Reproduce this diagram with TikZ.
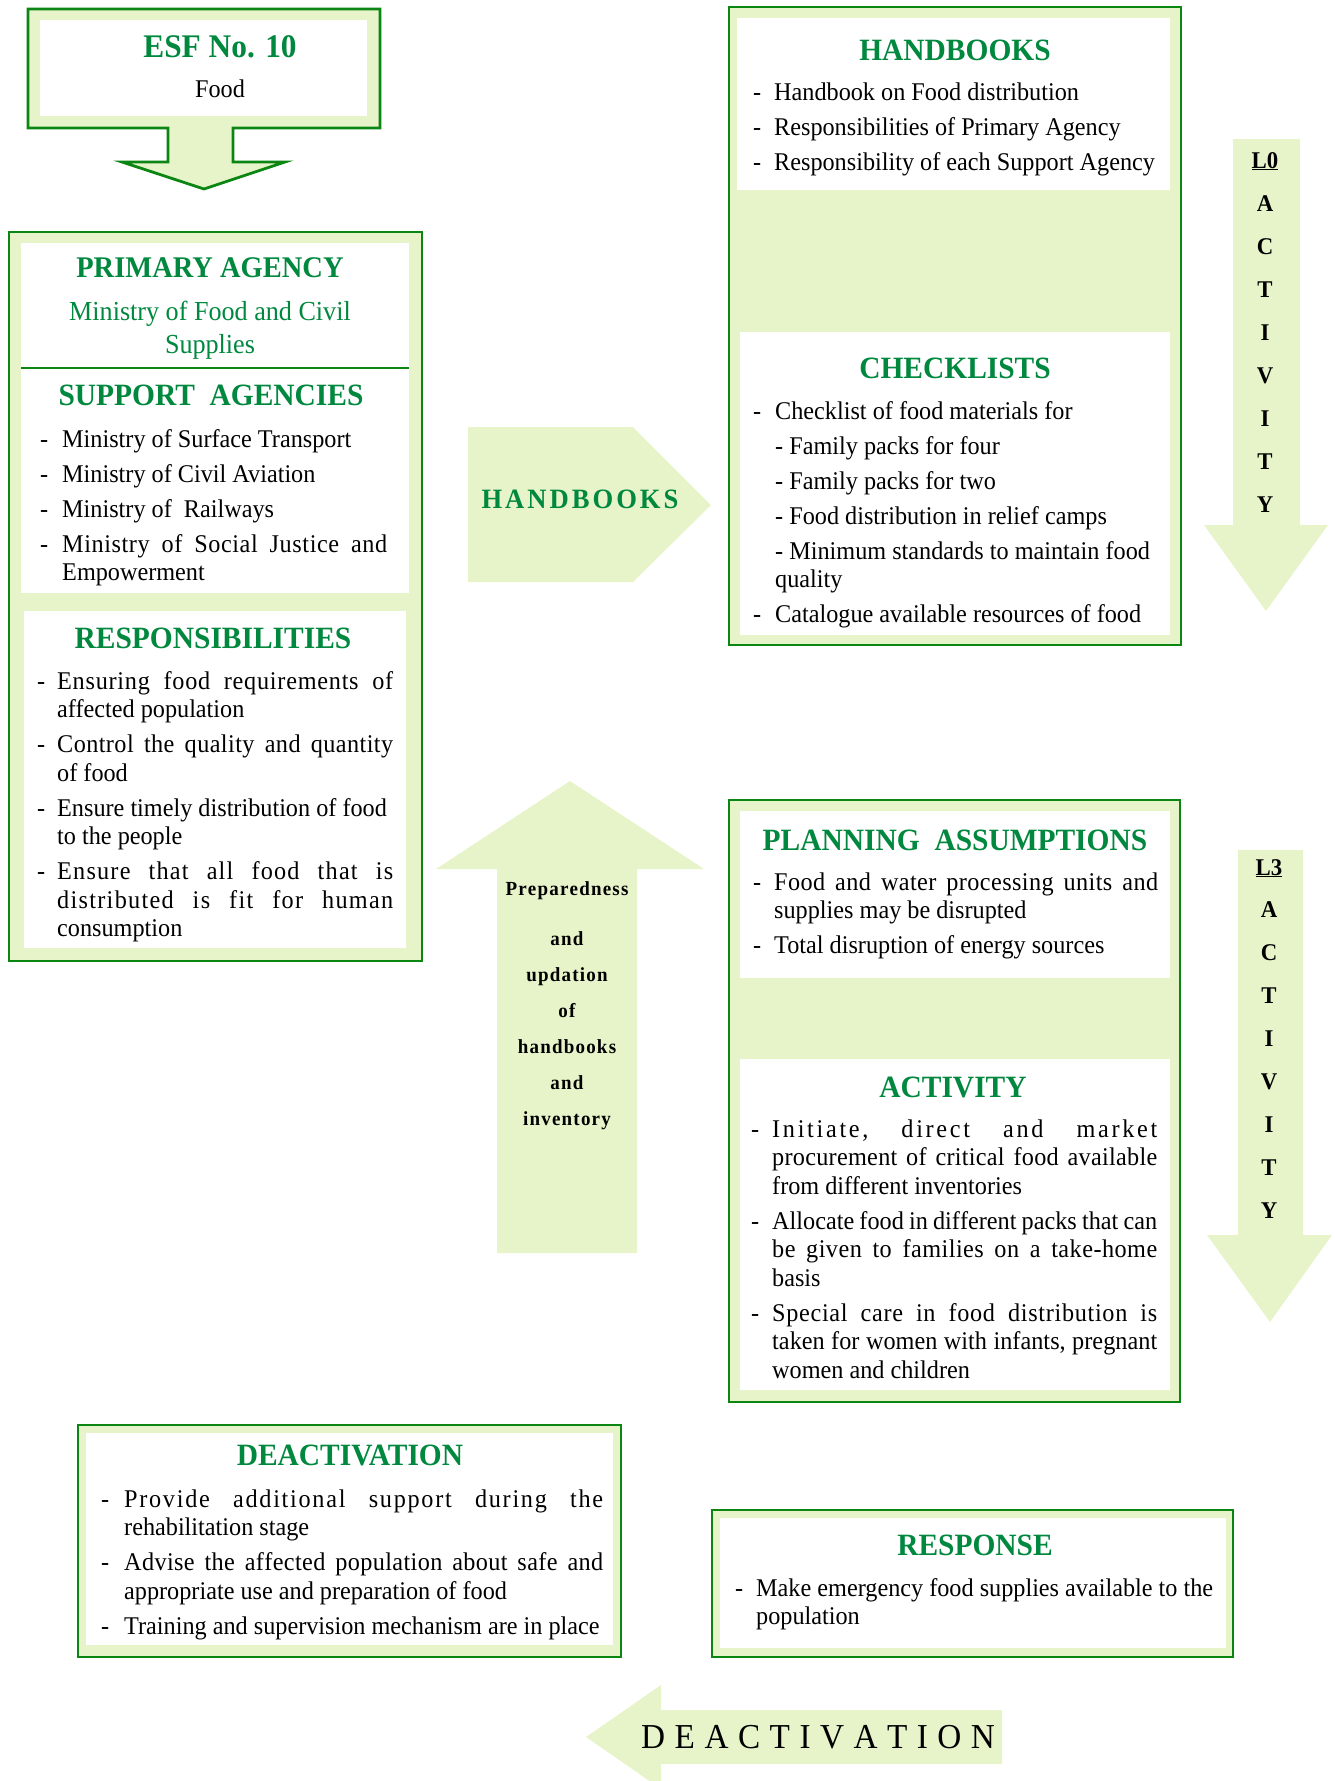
\documentclass[tikz,border=0pt]{standalone}
\usepackage{fontspec}
\setmainfont{Liberation Serif}[FakeStretch=0.95]

\definecolor{edgegreen}{RGB}{12,134,18}
\definecolor{headgreen}{RGB}{0,136,62}
\definecolor{palegreen}{RGB}{231,244,202}

\makeatletter
% spread a line: small stretch between letters, larger stretch between words
\def\lsp@go{\futurelet\lsp@next\lsp@check}
\def\lsp@check{%
  \ifx\lsp@next\@nil
    \let\lsp@do\lsp@end
  \else\ifx\lsp@next\@sptoken
    \let\lsp@do\lsp@space
  \else
    \let\lsp@do\lsp@letter
  \fi\fi
  \lsp@do}
\def\lsp@letter#1{#1\hskip 0pt plus 1pt\relax\lsp@go}
\@firstofone{\def\lsp@space} {\unskip\hskip\fontdimen2\font plus 10pt minus 2.5pt\relax\lsp@go}
\def\lsp@end\@nil{\unskip}
\newcommand\spreadline[1]{\lsp@go#1\@nil}

% letter-spaced words
\newcommand\spaced[2]{\def\spc@k{#1}\spc@go#2\@nil}
\def\spc@go#1{\ifx#1\@nil\unkern\else#1\kern\spc@k\relax\expandafter\spc@go\fi}
\makeatother

% bulleted lists: a dash in a fixed-width slot, hanging indent for the rest
\newlength\dashw
\newcommand\li[1]{\par\noindent\hangindent=\dashw\hangafter=1\relax\makebox[\dashw][l]{-}#1\par}
\newcommand\si[1]{\par\noindent\hangindent=\dashw\hangafter=0\relax#1\par}
\newcommand\jl[1]{\makebox[\dimexpr\linewidth-\dashw\relax][s]{\spreadline{#1}}}
\newcommand\blist[3]{\begin{minipage}[t]{#1}\setlength\dashw{#2}\setlength\parindent{0pt}\setlength\parskip{6.5pt}#3\end{minipage}}

\begin{document}
\begin{tikzpicture}[x=1pt,y=-1pt,
  panel/.style={fill=palegreen, draw=edgegreen, line width=2.8pt},
  sheet/.style={fill=white},
  band/.style={fill=palegreen},
  ttl/.style={inner sep=0pt, anchor=base, text=headgreen, font=\fontsize{31}{31}\selectfont\bfseries},
  sub/.style={inner sep=0pt, anchor=base, text=headgreen, font=\fontsize{27.5}{27.5}\selectfont},
  txt/.style={inner sep=0pt, anchor=base west, font=\fontsize{25.5}{28.5}\selectfont},
  lett/.style={inner sep=0pt, anchor=base, font=\fontsize{24}{24}\selectfont\bfseries},
  prep/.style={inner sep=0pt, anchor=base, font=\fontsize{20}{20}\selectfont\bfseries}]
\useasboundingbox (0,0) rectangle (1335,1781);

% ---------- ESF callout with its down arrow ----------
\draw[panel] (28,9) -- (380,9) -- (380,128) -- (233,128) -- (233,162) -- (285,162)
  -- (204,189) -- (122,162) -- (168,162) -- (168,128) -- (28,128) -- cycle;
\fill[sheet] (40,20) rectangle (367,116);
\node[ttl, font=\fontsize{33}{33}\selectfont\bfseries] (esf) at (220,57) {ESF No. 10};
\node[txt, anchor=base] (food) at (220,97) {Food};

% ---------- primary / support agencies / responsibilities ----------
\draw[panel] (9,232) rectangle (422,961);
\fill[sheet] (21,243) rectangle (409,593);
\draw[edgegreen, line width=2.6pt] (21,368) -- (409,368);
\fill[sheet] (24,611) rectangle (406,948);
\node[ttl, font=\fontsize{30}{30}\selectfont\bfseries] (prim) at (210,277) {PRIMARY AGENCY};
\node[sub] (mfcs1) at (210,320) {Ministry of Food and Civil};
\node[sub] (mfcs2) at (210,353) {Supplies};
\node[ttl] (supp) at (211,405) {SUPPORT\ \ AGENCIES};
\node[txt] (supplist) at (40,447) {\blist{347pt}{22pt}{%
\li{Ministry of Surface Transport}
\li{Ministry of Civil Aviation}
\li{Ministry of\ \ Railways}
\li{\jl{Ministry of Social Justice and}\\Empowerment}}};
\node[ttl] (resp) at (213,648) {RESPONSIBILITIES};
\node[txt] (resplist) at (37,689) {\blist{356pt}{20pt}{%
\li{\jl{Ensuring food requirements of}\\affected population}
\li{\jl{Control the quality and quantity}\\of food}
\li{Ensure timely distribution of food\\to the people}
\li{\jl{Ensure that all food that is}\\\jl{distributed is fit for human}\\consumption}}};

% ---------- handbooks / checklists ----------
\draw[panel] (729,7) rectangle (1181,645);
\fill[sheet] (737,18) rectangle (1170,190);
\fill[sheet] (740,332) rectangle (1170,635);
\node[ttl] (hbt) at (955,60) {HANDBOOKS};
\node[txt] (hblist) at (753,100) {\blist{420pt}{21pt}{%
\li{Handbook on Food distribution}
\li{Responsibilities of Primary Agency}
\li{Responsibility of each Support Agency}}};
\node[ttl] (ckt) at (955,378) {CHECKLISTS};
\node[txt] (cklist) at (753,419) {\blist{420pt}{22pt}{%
\li{Checklist of food materials for}
\si{- Family packs for four}
\si{- Family packs for two}
\si{- Food distribution in relief camps}
\si{- Minimum standards to maintain food\\quality}
\li{Catalogue available resources of food}}};

% ---------- planning assumptions / activity ----------
\draw[panel] (729,800) rectangle (1180,1402);
\fill[sheet] (740,811) rectangle (1170,978);
\fill[sheet] (740,1059) rectangle (1170,1390);
\node[ttl] (pat) at (955,850) {PLANNING\ \ ASSUMPTIONS};
\node[txt] (palist) at (753,890) {\blist{405pt}{21pt}{%
\li{\jl{Food and water processing units and}\\supplies may be disrupted}
\li{Total disruption of energy sources}}};
\node[ttl] (actt) at (953,1097) {ACTIVITY};
\node[txt] (actlist) at (751,1137) {\blist{406pt}{21pt}{%
\li{\jl{Initiate, direct and market}\\\jl{procurement of critical food available}\\from different inventories}
\li{\jl{Allocate food in different packs that can}\\\jl{be given to families on a take-home}\\basis}
\li{\jl{Special care in food distribution is}\\\jl{taken for women with infants, pregnant}\\women and children}}};

% ---------- deactivation / response ----------
\draw[panel] (78,1425) rectangle (621,1657);
\fill[sheet] (86,1433) rectangle (613,1645);
\node[ttl] (deat) at (350,1465) {DEACTIVATION};
\node[txt] (dealist) at (101,1507) {\blist{502pt}{23pt}{%
\li{\jl{Provide additional support during the}\\rehabilitation stage}
\li{\jl{Advise the affected population about safe and}\\appropriate use and preparation of food}
\li{Training and supervision mechanism are in place}}};

\draw[panel] (712,1510) rectangle (1233,1657);
\fill[sheet] (720,1518) rectangle (1226,1648);
\node[ttl] (rspt) at (975,1555) {RESPONSE};
\node[txt] (rsplist) at (735,1596) {\blist{490pt}{21pt}{%
\li{Make emergency food supplies available to the\\population}}};

% ---------- block arrows ----------
\fill[band] (468,427) -- (633,427) -- (711,505) -- (633,582) -- (468,582) -- cycle;
\node[inner sep=0pt, anchor=base, text=headgreen, font=\fontsize{28}{28}\selectfont\bfseries]
  (hbarrow) at (580,508) {\spaced{3pt}{HANDBOOKS}};

\fill[band] (570,781) -- (704,869) -- (637,869) -- (637,1253) -- (497,1253) -- (497,869) -- (436,869) -- cycle;
\node[prep] (prep1) at (567,895) {\spaced{1.2pt}{Preparedness}};
\node[prep] (prep2) at (567,945) {\spaced{1.2pt}{and}};
\node[prep] (prep3) at (567,981) {\spaced{1.2pt}{updation}};
\node[prep] (prep4) at (567,1017) {\spaced{1.2pt}{of}};
\node[prep] (prep5) at (567,1053) {\spaced{1.2pt}{handbooks}};
\node[prep] (prep6) at (567,1089) {\spaced{1.2pt}{and}};
\node[prep] (prep7) at (567,1125) {\spaced{1.2pt}{inventory}};

\fill[band] (586,1737) -- (661,1685) -- (661,1710) -- (1002,1710) -- (1002,1764) -- (661,1764) -- (661,1789) -- cycle;
\node[inner sep=0pt, anchor=base west, font=\fontsize{35}{35}\selectfont]
  (deaarrow) at (641,1748) {\spaced{9.5pt}{DEACTIVATION}};

% ---------- activity level columns ----------
\fill[band] (1233,139) -- (1300,139) -- (1300,525) -- (1328,525) -- (1266,611) -- (1204,525) -- (1233,525) -- cycle;
\node[lett] (lzero) at (1265,168) {\underline{L0}};
\foreach \c [count=\i] in {A,C,T,I,V,I,T,Y}
  \node[lett] (lzero\i) at (1265,168+43.1*\i) {\c};

\fill[band] (1238,850) -- (1303,850) -- (1303,1235) -- (1332,1235) -- (1270,1322) -- (1207,1235) -- (1238,1235) -- cycle;
\node[lett] (lthree) at (1269,875) {\underline{L3}};
\foreach \c [count=\i] in {A,C,T,I,V,I,T,Y}
  \node[lett] (lthree\i) at (1269,875+42.9*\i) {\c};
\end{tikzpicture}
\end{document}
